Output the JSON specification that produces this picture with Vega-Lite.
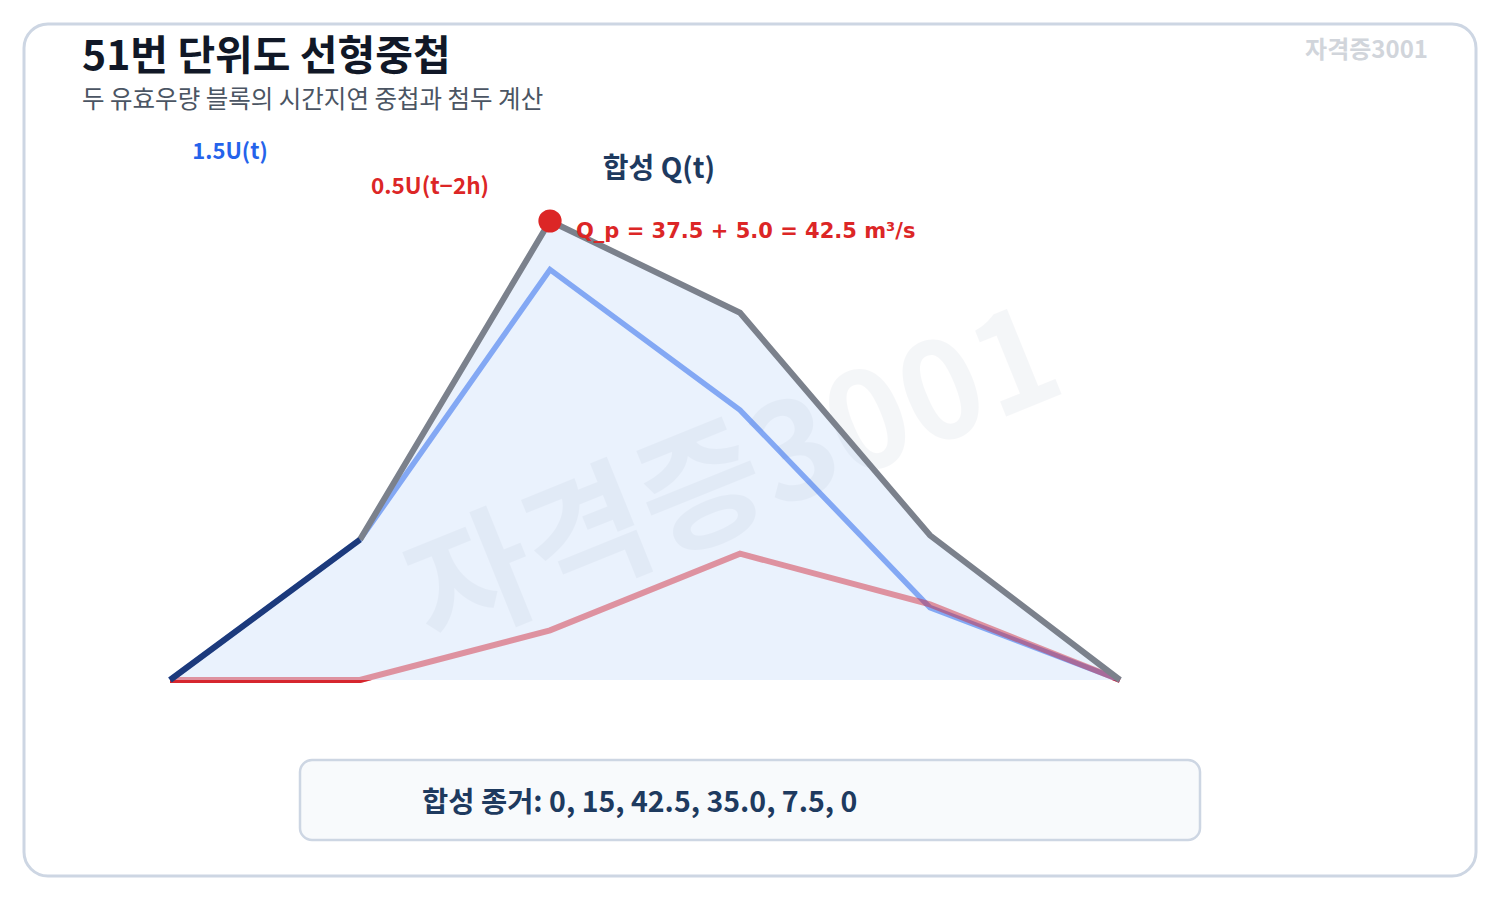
{
  "$schema": "https://vega.github.io/schema/vega-lite/v6.json",
  "width": 1500,
  "height": 900,
  "autosize": {"type": "fit", "contains": "padding"},
  "padding": 24,
  "background": "white",
  "config": {
    "font": "Noto Sans CJK KR",
    "view": {"stroke": "#cdd6e3", "strokeWidth": 3, "cornerRadius": 24, "fill": "white"},
    "axis": {"disable": true}
  },
  "datasets": {
    "hydro": [
      {"t": 0, "q": 0, "u": 0, "r": 0},
      {"t": 1, "q": 13.0, "u": 13.0, "r": 0},
      {"t": 2, "q": 42.5, "u": 38.0, "r": 4.6},
      {"t": 3, "q": 34.0, "u": 25.0, "r": 11.7},
      {"t": 4, "q": 13.4, "u": 6.7, "r": 7.0},
      {"t": 5, "q": 0, "u": 0, "r": 0}
    ]
  },
  "layer": [
    {
      "data": {"name": "hydro"},
      "mark": {"type": "line", "color": "#dc2626", "strokeWidth": 6},
      "encoding": {
        "x": {"field": "t", "type": "quantitative", "axis": null,
              "scale": {"domain": [-0.76842, 6.87368], "nice": false, "zero": false}},
        "y": {"field": "r", "type": "quantitative", "axis": null,
              "scale": {"domain": [-18.1481, 60.7407], "nice": false, "zero": false}}
      }
    },
    {
      "data": {"name": "hydro"},
      "mark": {"type": "area", "color": "#eaf2fd"},
      "encoding": {
        "x": {"field": "t", "type": "quantitative"},
        "y": {"field": "q", "type": "quantitative"},
        "y2": {"datum": 0}
      }
    },
    {
      "data": {"values": [{"t": 2.98, "q": 18.3, "label": "자격증3001"}]},
      "mark": {"type": "text", "fontSize": 134, "fontWeight": "bold", "angle": -22,
               "color": "#94a3b8", "opacity": 0.09, "align": "center", "baseline": "middle"},
      "encoding": {
        "x": {"field": "t", "type": "quantitative"},
        "y": {"field": "q", "type": "quantitative"},
        "text": {"field": "label"}
      }
    },
    {
      "data": {"name": "hydro"},
      "mark": {"type": "line", "color": "#2563eb", "opacity": 0.52, "strokeWidth": 5.5},
      "encoding": {
        "x": {"field": "t", "type": "quantitative"},
        "y": {"field": "u", "type": "quantitative"}
      }
    },
    {
      "data": {"name": "hydro"},
      "mark": {"type": "line", "color": "#d12637", "opacity": 0.47, "strokeWidth": 6},
      "encoding": {
        "x": {"field": "t", "type": "quantitative"},
        "y": {"field": "r", "type": "quantitative"}
      }
    },
    {
      "data": {"name": "hydro"},
      "transform": [{"filter": "datum.t >= 1"}],
      "mark": {"type": "line", "color": "#7b818c", "strokeWidth": 6},
      "encoding": {
        "x": {"field": "t", "type": "quantitative"},
        "y": {"field": "q", "type": "quantitative"}
      }
    },
    {
      "data": {"name": "hydro"},
      "transform": [{"filter": "datum.t <= 1"}],
      "mark": {"type": "line", "color": "#1c3a7c", "strokeWidth": 6},
      "encoding": {
        "x": {"field": "t", "type": "quantitative"},
        "y": {"field": "q", "type": "quantitative"}
      }
    },
    {
      "data": {"name": "hydro"},
      "transform": [{"filter": "datum.t == 2"}],
      "mark": {"type": "circle", "color": "#dc2626", "opacity": 1, "size": 540},
      "encoding": {
        "x": {"field": "t", "type": "quantitative"},
        "y": {"field": "q", "type": "quantitative"}
      }
    },
    {
      "data": {"values": [{"t": 0.6842, "t2": 5.4211, "q": -7.407, "q2": -14.815}]},
      "mark": {"type": "rect", "cornerRadius": 12, "fill": "#f8fafc", "stroke": "#cdd6e3", "strokeWidth": 2.5},
      "encoding": {
        "x": {"field": "t", "type": "quantitative"},
        "x2": {"field": "t2"},
        "y": {"field": "q", "type": "quantitative"},
        "y2": {"field": "q2"}
      }
    },
    {
      "data": {"values": [{"t": 1.3263, "q": -11.4, "label": "합성 종거: 0, 15, 42.5, 35.0, 7.5, 0"}]},
      "mark": {"type": "text", "fontSize": 28.5, "fontWeight": "bold", "color": "#1e3a5f", "align": "left", "baseline": "middle"},
      "encoding": {
        "x": {"field": "t", "type": "quantitative"},
        "y": {"field": "q", "type": "quantitative"},
        "text": {"field": "label"}
      }
    },
    {
      "data": {"values": [{"t": -0.4632, "q": 57.6, "label": "51번 단위도 선형중첩"}]},
      "mark": {"type": "text", "fontSize": 41, "fontWeight": "bold", "color": "#111827", "align": "left", "baseline": "middle"},
      "encoding": {
        "x": {"field": "t", "type": "quantitative"},
        "y": {"field": "q", "type": "quantitative"},
        "text": {"field": "label"}
      }
    },
    {
      "data": {"values": [{"t": -0.4632, "q": 53.6, "label": "두 유효우량 블록의 시간지연 중첩과 첨두 계산"}]},
      "mark": {"type": "text", "fontSize": 24.5, "color": "#4b5563", "align": "left", "baseline": "middle"},
      "encoding": {
        "x": {"field": "t", "type": "quantitative"},
        "y": {"field": "q", "type": "quantitative"},
        "text": {"field": "label"}
      }
    },
    {
      "data": {"values": [{"t": 6.6211, "q": 58.24, "label": "자격증3001"}]},
      "mark": {"type": "text", "fontSize": 24, "fontWeight": "bold", "color": "#d1d5db", "align": "right", "baseline": "middle"},
      "encoding": {
        "x": {"field": "t", "type": "quantitative"},
        "y": {"field": "q", "type": "quantitative"},
        "text": {"field": "label"}
      }
    },
    {
      "data": {"values": [{"t": 0.3158, "q": 48.89, "label": "1.5U(t)"}]},
      "mark": {"type": "text", "fontSize": 22, "fontWeight": "bold", "color": "#2563eb", "align": "center", "baseline": "middle"},
      "encoding": {
        "x": {"field": "t", "type": "quantitative"},
        "y": {"field": "q", "type": "quantitative"},
        "text": {"field": "label"}
      }
    },
    {
      "data": {"values": [{"t": 1.3684, "q": 45.65, "label": "0.5U(t−2h)"}]},
      "mark": {"type": "text", "fontSize": 22.5, "fontWeight": "bold", "color": "#dc2626", "align": "center", "baseline": "middle"},
      "encoding": {
        "x": {"field": "t", "type": "quantitative"},
        "y": {"field": "q", "type": "quantitative"},
        "text": {"field": "label"}
      }
    },
    {
      "data": {"values": [{"t": 2.5737, "q": 47.22, "label": "합성 Q(t)"}]},
      "mark": {"type": "text", "fontSize": 28, "fontWeight": "bold", "color": "#1e3a5f", "align": "center", "baseline": "middle"},
      "encoding": {
        "x": {"field": "t", "type": "quantitative"},
        "y": {"field": "q", "type": "quantitative"},
        "text": {"field": "label"}
      }
    },
    {
      "data": {"values": [{"t": 2.1368, "q": 41.48, "label": "Q_p = 37.5 + 5.0 = 42.5 m³/s"}]},
      "mark": {"type": "text", "font": "DejaVu Sans", "fontSize": 21, "fontWeight": "bold", "color": "#dc2626", "align": "left", "baseline": "middle"},
      "encoding": {
        "x": {"field": "t", "type": "quantitative"},
        "y": {"field": "q", "type": "quantitative"},
        "text": {"field": "label"}
      }
    }
  ]
}
